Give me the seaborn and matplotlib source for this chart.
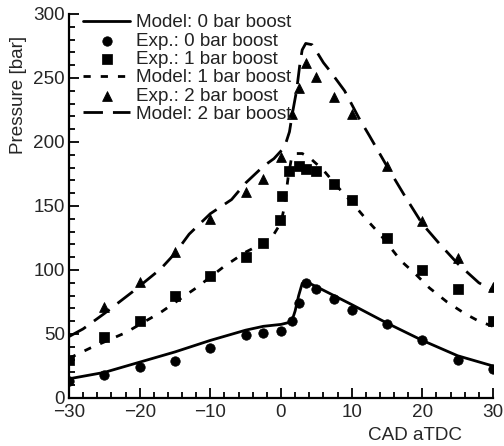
import numpy as np
import pandas as pd
import matplotlib
matplotlib.use('Agg')
import matplotlib.pyplot as plt
import seaborn as sns

sns.set_style('ticks')
plt.rcParams['font.family'] = ['Liberation Sans', 'DejaVu Sans']
plt.rcParams['font.size'] = 13.6
plt.rcParams['text.color'] = '#222222'

# ---- data ----
# model curves
model0_cad = [-30, -25, -20, -15, -10, -5, -2.5, 0, 1.5, 2, 2.5, 3, 3.5, 5, 7.5, 10, 15, 20, 25, 30]
model0_p = [15, 20, 28, 36, 45, 53, 56, 57.5, 59.5, 68, 80, 89.5, 91, 87, 80, 73, 58.5, 45, 33, 25]

model1_cad = [-30, -27, -22, -17, -12, -8, -5, -2.5, -1, 0, 0.5, 1, 1.5, 2, 3, 4, 6, 8, 10, 12, 14,
              17, 19, 21, 23.5, 26, 28, 30]
model1_p = [31, 39, 51, 67, 86, 103, 114, 121, 128, 137, 150, 172, 188, 191, 191, 188, 178, 165, 153,
            140, 128, 107, 97, 86, 75, 66, 60, 56]

model2_cad = [-30, -28, -25, -21, -17, -15, -13, -10, -7, -5, -2.5, -1, 0.5, 1.2, 1.6, 2.2, 2.7, 3, 3.5,
              4.4, 5, 6, 7, 9, 11, 12.5, 15, 17.5, 20, 22.5, 25, 28, 30]
model2_p = [48, 54, 66, 83, 101, 113, 128, 144, 155, 168, 181, 187, 196, 208, 222, 240, 262, 272, 277,
            276, 271, 262, 255, 240, 219, 205, 181, 158, 136, 120, 105, 90, 84]

# experiments
exp0_cad = [-30, -25, -20, -15, -10, -5, -2.5, 0, 1.5, 2.5, 3.5, 5, 7.5, 10, 15, 20, 25, 30]
exp0_p = [13, 18, 24.5, 29, 39, 49, 51, 52, 60, 74, 90, 85, 77, 69, 58, 45, 30, 22.5]

exp1_cad = [-30, -25, -20, -15, -10, -5, -2.5, -0.2, 0.2, 1.2, 2.5, 3.5, 5, 7.5, 10, 15, 20, 25, 30]
exp1_p = [30, 48, 60, 80, 95, 110, 121, 139, 158, 177, 181, 179, 177, 167, 155, 125, 100, 85, 60]

exp2_cad = [-25, -20, -15, -10, -5, -2.5, 0, 1.5, 2.5, 3.5, 5, 7.5, 10, 15, 20, 25, 30]
exp2_p = [71, 91, 114, 140, 161, 171, 188, 222, 242, 262, 251, 235, 222, 181, 138, 109, 87]

fig = plt.figure(figsize=(5.04, 4.46), dpi=100)
ax = fig.add_axes([69 / 504, 48 / 446, 424 / 504, 384 / 446])

lw = 2.0
sns.lineplot(x=model0_cad, y=model0_p, ax=ax, color='black', lw=lw, label='Model: 0 bar boost')
sns.scatterplot(x=exp0_cad, y=exp0_p, ax=ax, color='black', marker='o', s=46, edgecolor='black',
                label='Exp.: 0 bar boost', zorder=3)
sns.scatterplot(x=exp1_cad, y=exp1_p, ax=ax, color='black', marker='s', s=42, edgecolor='black',
                label='Exp.: 1 bar boost', zorder=3)
sns.lineplot(x=model1_cad, y=model1_p, ax=ax, color='black', lw=lw, label='Model: 1 bar boost')
sns.scatterplot(x=exp2_cad, y=exp2_p, ax=ax, color='black', marker='^', s=50, edgecolor='black',
                label='Exp.: 2 bar boost', zorder=3)
sns.lineplot(x=model2_cad, y=model2_p, ax=ax, color='black', lw=lw, label='Model: 2 bar boost')

lines = ax.get_lines()
lines[1].set_dashes([2.6, 3.6])
lines[2].set_dashes([7.0, 3.6])

ax.set_xlim(-30, 30)
ax.set_ylim(0, 300)
ax.set_xticks(range(-30, 31, 10))
ax.set_xticks(range(-30, 31, 2), minor=True)
ax.set_yticks(range(0, 301, 50))
ax.set_yticks(range(0, 301, 10), minor=True)
ax.tick_params(which='both', direction='in', color='black', width=1.3)
ax.tick_params(which='major', length=7, pad=4)
ax.tick_params(which='minor', length=4)
ax.tick_params(axis='y', which='major', pad=3)
sns.despine(ax=ax)
for s in ['left', 'bottom']:
    ax.spines[s].set_linewidth(1.6)
    ax.spines[s].set_color('black')

ax.set_xlabel('CAD aTDC')
ax.set_ylabel('Pressure [bar]')
ax.xaxis.set_label_coords(0.816, -0.075)
ax.yaxis.set_label_coords(-0.1, 0.79)

h, lab = ax.get_legend_handles_labels()
leg = ax.legend(h, lab, loc='upper left', bbox_to_anchor=(0.033, 1.0), frameon=False,
                borderpad=0, borderaxespad=0, handlelength=2.5, handletextpad=0.28,
                labelspacing=0.06, scatterpoints=1, fontsize=13.6)

fig.savefig('out.png', dpi=100)
